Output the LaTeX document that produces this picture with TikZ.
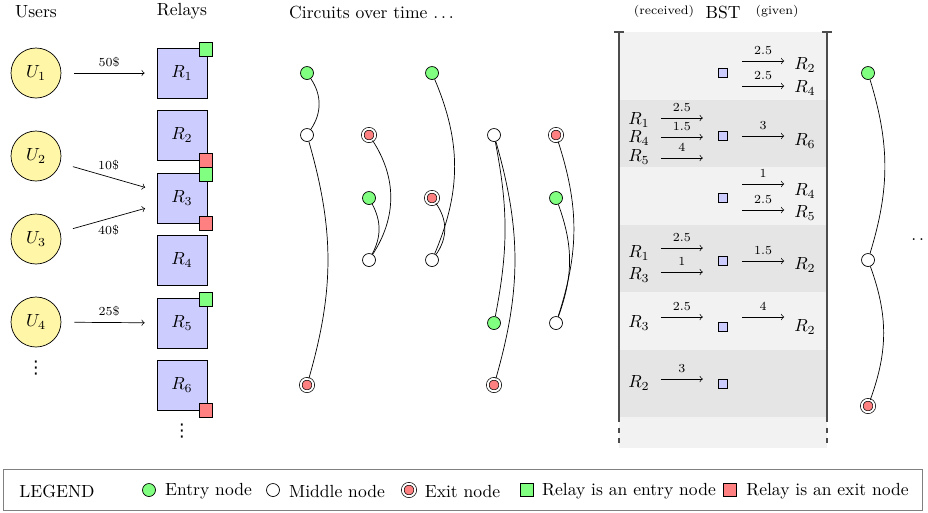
\documentclass[tikz,border=0pt]{standalone}
\usepackage{fontspec}
\newfontfamily\djv{DejaVu Sans}
\usetikzlibrary{calc}
\definecolor{ufill}{RGB}{255,246,168}
\newcommand{\spdots}{.\kern1.67pt.\kern1.67pt.\kern1.67pt}
\tikzset{
 user/.style={circle,draw,fill=ufill,minimum size=1cm,inner sep=0pt},
 relay/.style={rectangle,draw,fill=blue!20,minimum size=1cm,inner sep=0pt},
 rentry/.style={rectangle,draw,fill=green!50,minimum size=0.27cm,inner sep=0pt},
 rexit/.style={rectangle,draw,fill=red!50,minimum size=0.27cm,inner sep=0pt},
 entryn/.style={circle,draw,fill=green!50,minimum size=0.26cm,inner sep=0pt},
 midn/.style={circle,draw,fill=white,minimum size=0.26cm,inner sep=0pt},
 exitn/.style={circle,draw,double,double distance=1.1pt,fill=red!50,minimum size=0.25cm,inner sep=0pt},
 pay/.style={->,shorten <=0.26cm,shorten >=0.24cm},
 lbl/.style={font=\scriptsize},
 bsq/.style={rectangle,draw,fill=blue!20,minimum size=0.19cm,inner sep=0pt},
 barrow/.style={->},
 bstline/.style={draw=black!70,line width=0.8pt},
 lightband/.style={fill=black!5},
 darkband/.style={fill=black!10},
 vdotsnode/.style={font=\djv,inner sep=0pt}
}
\begin{document}
\begin{tikzpicture}[x=0.02cm,y=-0.02cm]
\path[use as bounding box] (0,0) rectangle (928,512);
\clip (0,0) rectangle (928,512);

% headers
\node (hU) at (36,12) {Users};
\node (hR) at (182,11) {Relays};
\node (hC) at (373,12) {Circuits over time \spdots};
\node[lbl] (hrec) at (664,11) {(received)};
\node (hB) at (723,12) {BST};
\node[lbl] (hgiv) at (777,11) {(given)};

% users
\node[user] (u1) at (36,73) {$U_1$};
\node[user] (u2) at (36,156) {$U_2$};
\node[user] (u3) at (36,239) {$U_3$};
\node[user] (u4) at (36,322) {$U_4$};
\node[vdotsnode] (ud) at (36,368) {⋮};

% relays
\node[relay] (r1) at (182,73) {$R_1$};
\node[relay] (r2) at (182,135) {$R_2$};
\node[relay] (r3) at (182,198) {$R_3$};
\node[relay] (r4) at (182,260) {$R_4$};
\node[relay] (r5) at (182,323) {$R_5$};
\node[relay] (r6) at (182,385) {$R_6$};
\node[vdotsnode] (rd) at (182,431) {⋮};

\node[rentry] (r1e) at ($(r1.north east)+(-1.5,1.5)$) {};
\node[rexit]  (r2x) at ($(r2.south east)+(-1.5,0)$) {};
\node[rentry] (r3e) at ($(r3.north east)+(-1.5,1.5)$) {};
\node[rexit]  (r3x) at ($(r3.south east)+(-1.5,0)$) {};
\node[rentry] (r5e) at ($(r5.north east)+(-1.5,1.5)$) {};
\node[rexit]  (r6x) at ($(r6.south east)+(-1.5,0)$) {};

% payments
\draw[pay] (u1) -- (r1) node[midway,above,lbl] {50\$};
\draw[pay] (u2) -- (r3) node[midway,above,lbl] {10\$};
\draw[pay] (u3) -- (r3) node[midway,below,lbl] {40\$};
\draw[pay] (u4) -- (r5) node[midway,above,lbl] {25\$};

% circuit 1
\node[entryn] (a1) at (307,73) {};
\node[midn] (b1) at (307,135) {};
\node[exitn] (e1) at (307,385) {};
\draw (a1) to[bend left=34] (b1);
\draw (b1) to[bend left=16] (e1);
% circuit 2
\node[exitn] (e2) at (369,135) {};
\node[entryn] (a2) at (369,198) {};
\node[midn] (b2) at (369,260) {};
\draw (e2) to[bend left=33] (b2);
\draw (a2) to[bend left=28] (b2);
% circuit 3
\node[entryn] (a3) at (432,73) {};
\node[exitn] (e3) at (432,198) {};
\node[midn] (b3) at (432,260) {};
\draw (a3) to[bend left=23] (b3);
\draw (e3) to[bend left=36] (b3);
% circuit 4
\node[midn] (b4) at (494,135) {};
\node[entryn] (a4) at (494,323) {};
\node[exitn] (e4) at (494,385) {};
\draw (b4) to[bend left=11] (a4);
\draw (b4) to[bend left=16] (e4);
% circuit 5
\node[exitn] (e5) at (556,135) {};
\node[entryn] (a5) at (556,198) {};
\node[midn] (b5) at (556,323) {};
\draw (e5) to[bend left=18] (b5);
\draw (a5) to[bend left=20] (b5);
% circuit 6
\node[entryn] (a6) at (868,73) {};
\node[midn] (b6) at (868,260) {};
\node[exitn] (e6) at (868,406) {};
\draw (a6) to[bend left=17] (b6);
\draw (b6) to[bend left=20] (e6);
\node[anchor=west,inner sep=0pt] (more) at (911,240) {.\kern1.67pt.};

% BST panel
\fill[lightband] (619,32) rectangle (827,100);
\fill[darkband]  (619,100) rectangle (827,167);
\fill[lightband] (619,167) rectangle (827,225);
\fill[darkband]  (619,225) rectangle (827,292);
\fill[lightband] (619,292) rectangle (827,350);
\fill[darkband]  (619,350) rectangle (827,417);
\fill[lightband] (619,417) rectangle (827,448);
\draw[bstline] (614,32) -- (624,32);
\draw[bstline] (619,32) -- (619,417);
\draw[bstline,dashed] (619,417) -- (619,448);
\draw[bstline] (822,32) -- (832,32);
\draw[bstline] (827,32) -- (827,417);
\draw[bstline,dashed] (827,417) -- (827,448);

\node[bsq] (s1) at (723,73) {};
\node[bsq] (s2) at (723,136) {};
\node[bsq] (s3) at (723,198) {};
\node[bsq] (s4) at (723,261) {};
\node[bsq] (s5) at (723,327) {};
\node[bsq] (s6) at (723,384) {};

% received
\node (l21) at (639,120) {$R_1$};
\node (l22) at (639,138) {$R_4$};
\node (l23) at (639,157) {$R_5$};
\node (l41) at (639,253) {$R_1$};
\node (l42) at (639,275) {$R_3$};
\node (l51) at (639,323) {$R_3$};
\node (l61) at (639,383) {$R_2$};
\draw[barrow] ($(l21.east)+(5,-2)$) -- +(42,0) node[midway,above,lbl] {2.5};
\draw[barrow] ($(l22.east)+(5,-1)$) -- +(42,0) node[midway,above,lbl] {1.5};
\draw[barrow] ($(l23.east)+(5,1)$) -- +(42,0) node[midway,above,lbl] {4};
\draw[barrow] ($(l41.east)+(5,-5)$) -- +(42,0) node[midway,above,lbl] {2.5};
\draw[barrow] ($(l42.east)+(5,-3)$) -- +(42,0) node[midway,above,lbl] {1};
\draw[barrow] ($(l51.east)+(5,-6)$) -- +(42,0) node[midway,above,lbl] {2.5};
\draw[barrow] ($(l61.east)+(5,-4)$) -- +(42,0) node[midway,above,lbl] {3};

% given
\node (o11) at (805,65) {$R_2$};
\node (o12) at (805,88) {$R_4$};
\node (o21) at (805,141) {$R_6$};
\node (o31) at (805,191) {$R_4$};
\node (o32) at (805,213) {$R_5$};
\node (o41) at (805,265) {$R_2$};
\node (o51) at (805,327) {$R_2$};
\draw[barrow] ($(o11.west)+(-46,-4)$) -- +(42,0) node[midway,above,lbl] {2.5};
\draw[barrow] ($(o12.west)+(-46,-2)$) -- +(42,0) node[midway,above,lbl] {2.5};
\draw[barrow] ($(o21.west)+(-46,-5)$) -- +(42,0) node[midway,above,lbl] {3};
\draw[barrow] ($(o31.west)+(-46,-7)$) -- +(42,0) node[midway,above,lbl] {1};
\draw[barrow] ($(o32.west)+(-46,-3)$) -- +(42,0) node[midway,above,lbl] {2.5};
\draw[barrow] ($(o41.west)+(-46,-4)$) -- +(42,0) node[midway,above,lbl] {1.5};
\draw[barrow] ($(o51.west)+(-46,-10)$) -- +(42,0) node[midway,above,lbl] {4};

% legend
\draw[black!50] (3,469) rectangle (922,510);
\node (lg) at (57,491) {LEGEND};
\node[entryn] (lge) at (149,490) {};
\node (lget) at (208.5,491) {Entry node};
\node[midn] (lgm) at (273,490) {};
\node (lgmt) at (337,491) {Middle node};
\node[exitn] (lgx) at (409,490) {};
\node (lgxt) at (462.5,491) {Exit node};
\node[rentry] (lgre) at (527,490) {};
\node (lgret) at (629,491) {Relay is an entry node};
\node[rexit] (lgrx) at (730,490) {};
\node (lgrxt) at (827.5,491) {Relay is an exit node};
\end{tikzpicture}
\end{document}
